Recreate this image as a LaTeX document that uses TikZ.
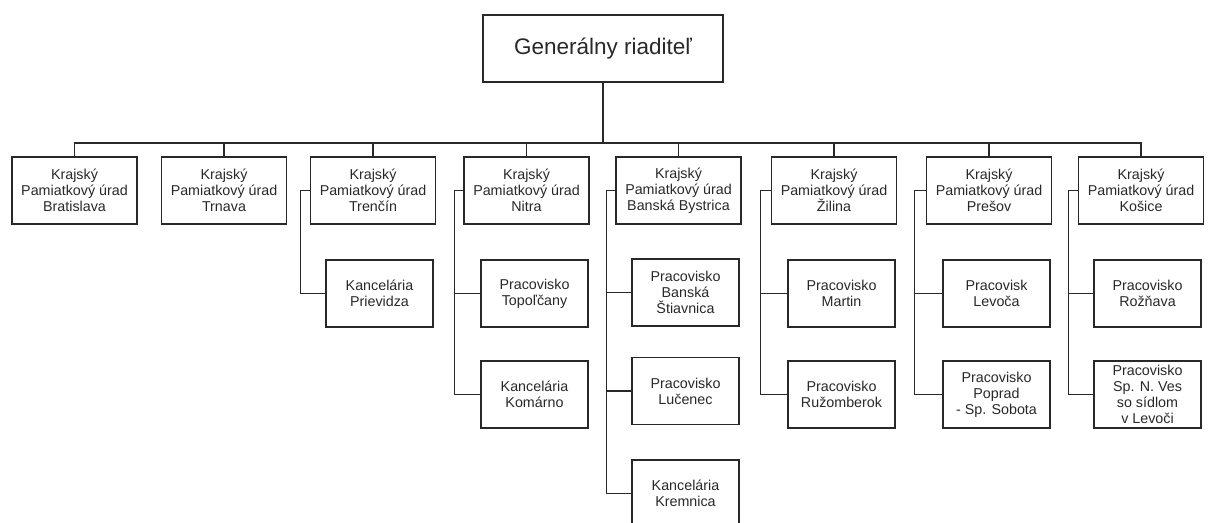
\documentclass[tikz,border=0pt]{standalone}
\usepackage{fontspec}
\setmainfont{Liberation Sans}
\definecolor{ink}{RGB}{40,40,40}

\begin{document}
\begin{tikzpicture}
      [%%%%%%%%%%%%%%%%%%%%%%%%%%%%%%
      x=1pt,y=-1pt,
      chief/.style={rectangle,draw=ink,line width=1.5pt,text=ink,minimum width=240,minimum height=67,font=\fontsize{22.5}{26}\selectfont},
      office/.style={rectangle,draw=ink,line width=1.5pt,text=ink,align=center,inner sep=1pt,minimum width=125,minimum height=67,font=\fontsize{14.3}{16}\selectfont},
      branch/.style={office,minimum width=107},
      link/.style={draw=ink,line width=1.4pt},
      ]%%%%%%%%%%%%%%%%%%%%%%%%%%%%%%
      \useasboundingbox (0,0) rectangle (1209,522);
      \clip (0,0) rectangle (1209,522);

      \node[chief] (gr) at (603,48.5) {Generálny riaditeľ};
      \coordinate (bus) at (603,143);

      \node[office] (ba) at (74.5,190.5) {Krajský\\Pamiatkový úrad\\Bratislava};
      \node[office] (tt) at (224,190.5)  {Krajský\\Pamiatkový úrad\\Trnava};
      \node[office] (tn) at (373,190.5)  {Krajský\\Pamiatkový úrad\\Trenčín};
      \node[office] (nr) at (526.5,190.5) {Krajský\\Pamiatkový úrad\\Nitra};
      \node[office] (bb) at (678.5,190.5) {Krajský\\Pamiatkový úrad\\Banská Bystrica};
      \node[office] (za) at (834,190.5)  {Krajský\\Pamiatkový úrad\\Žilina};
      \node[office] (po) at (989,190.5)  {Krajský\\Pamiatkový úrad\\Prešov};
      \node[office] (ke) at (1141,190.5) {Krajský\\Pamiatkový úrad\\Košice};

      \node[branch] (pd) at (379.5,293.5) {Kancelária\\Prievidza};
      \node[branch] (to) at (534.5,293.5) {Pracovisko\\Topoľčany};
      \node[branch] (kn) at (534.5,394.5) {Kancelária\\Komárno};
      \node[branch] (bs) at (685.5,292.5) {Pracovisko\\Banská\\Štiavnica};
      \node[branch] (lc) at (685.5,391)   {Pracovisko\\Lučenec};
      \node[branch] (km) at (685.5,493.5) {Kancelária\\Kremnica};
      \node[branch] (mt) at (841.5,293.5) {Pracovisko\\Martin};
      \node[branch] (rk) at (841.5,394.5) {Pracovisko\\Ružomberok};
      \node[branch] (le) at (996.5,293.5) {Pracovisk\\Levoča};
      \node[branch] (pp) at (996.5,394.5) {Pracovisko\\Poprad\\ - Sp. Sobota};
      \node[branch] (rv) at (1147.5,293.5) {Pracovisko\\Rožňava};
      \node[branch] (sn) at (1147.5,394.5) {Pracovisko\\Sp. N. Ves\\so sídlom\\v Levoči};

      % hierarchy
      \draw[link] (gr.south) -- (bus);
      \draw[link] (ba.north) |- (bus) -| (ke.north);
      \foreach \r in {tt,tn,nr,bb,za,po}
        \draw[link] (\r.north) -- (\r.north |- bus);

      % branches
      \draw[link] (tn.west) -- ++(-9,0) |- (pd.west);
      \draw[link] (nr.west) -- ++(-9,0) |- (kn.west);
      \draw[link] (nr.west) ++(-9,0) |- (to.west);
      \draw[link] (bb.west) -- ++(-9,0) |- (km.west);
      \draw[link] (bb.west) ++(-9,0) |- (bs.west);
      \draw[link] (bb.west) ++(-9,0) |- (lc.west);
      \draw[link] (za.west) -- ++(-10,0) |- (rk.west);
      \draw[link] (za.west) ++(-10,0) |- (mt.west);
      \draw[link] (po.west) -- ++(-11,0) |- (pp.west);
      \draw[link] (po.west) ++(-11,0) |- (le.west);
      \draw[link] (ke.west) -- ++(-9,0) |- (sn.west);
      \draw[link] (ke.west) ++(-9,0) |- (rv.west);
    \end{tikzpicture}
\end{document}
